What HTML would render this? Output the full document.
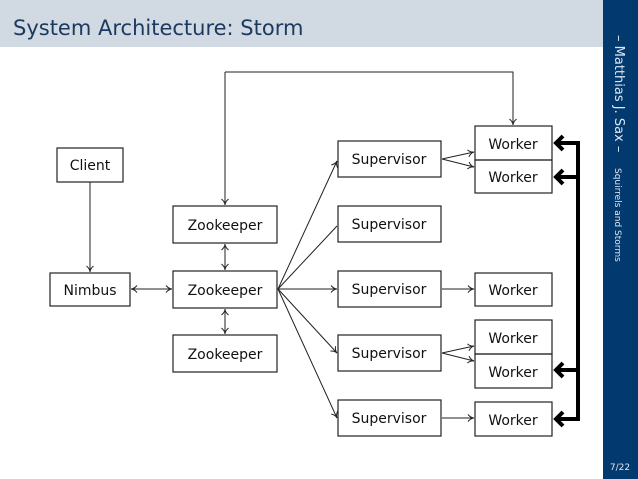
<!DOCTYPE html>
<html><head><meta charset="utf-8"><style>
html,body{margin:0;padding:0;width:638px;height:479px;overflow:hidden;background:#fff;font-family:"DejaVu Sans","Liberation Sans",sans-serif}
</style></head><body>
<svg width="638" height="479" viewBox="0 0 638 479" xmlns="http://www.w3.org/2000/svg">
<defs>
<marker id="a" markerWidth="8" markerHeight="8" refX="7" refY="4" orient="auto" markerUnits="userSpaceOnUse">
<path d="M1,0.5 Q4,4 7,4 Q4,4 1,7.5" fill="none" stroke="#222" stroke-width="1"/></marker>
</defs>
<rect x="0" y="0" width="603" height="47" fill="#d1d9e2"/>
<text x="13" y="35" font-size="21" fill="#1c3a60">System Architecture: Storm</text>
<rect x="603" y="0" width="35" height="479" fill="#023a70"/>
<text transform="translate(615,35) rotate(90)" font-size="13" fill="#dfe6ef">– Matthias J. Sax –</text>
<text transform="translate(615,168) rotate(90)" font-size="9" fill="#dfe6ef">Squirrels and Storms</text>
<text x="620" y="470" font-size="9" fill="#dfe6ef" text-anchor="middle">7/22</text>
<g fill="none" stroke="#222" stroke-width="1.2">
<rect x="57" y="148" width="66" height="34"/>
<rect x="50" y="273" width="80" height="33"/>
<rect x="173" y="206" width="104" height="37"/>
<rect x="173" y="271" width="104" height="37"/>
<rect x="173" y="335" width="104" height="37"/>
<rect x="338" y="141" width="103" height="36"/>
<rect x="338" y="206" width="103" height="36"/>
<rect x="338" y="271" width="103" height="36"/>
<rect x="338" y="335" width="103" height="36"/>
<rect x="338" y="400" width="103" height="36"/>
<rect x="475" y="126" width="77" height="34"/>
<rect x="475" y="160" width="77" height="33"/>
<rect x="475" y="273" width="77" height="33"/>
<rect x="475" y="320" width="77" height="34"/>
<rect x="475" y="354" width="77" height="34"/>
<rect x="475" y="402" width="77" height="34"/>
</g>
<g fill="none" stroke="#222" stroke-width="1">
<path d="M90,182 V272" marker-end="url(#a)"/>
<path d="M172,289 H131" marker-end="url(#a)"/>
<path d="M131,289 H172" marker-end="url(#a)"/>
<path d="M225,244 V270" marker-end="url(#a)"/>
<path d="M225,270 V244" marker-end="url(#a)"/>
<path d="M225,309 V334" marker-end="url(#a)"/>
<path d="M225,334 V309" marker-end="url(#a)"/>
<path d="M225,72 V205" marker-end="url(#a)"/>
<path d="M225,72 H513 V125" marker-end="url(#a)"/>
<path d="M278,289 L337,161" marker-end="url(#a)"/>
<path d="M278,289 L337,226"/>
<path d="M278,289 H337" marker-end="url(#a)"/>
<path d="M278,289 L337,353" marker-end="url(#a)"/>
<path d="M278,289 L337,418" marker-end="url(#a)"/>
<path d="M442,159 L474,152" marker-end="url(#a)"/>
<path d="M442,159 L474,167" marker-end="url(#a)"/>
<path d="M442,289 H474" marker-end="url(#a)"/>
<path d="M442,353 L474,346" marker-end="url(#a)"/>
<path d="M442,353 L474,361" marker-end="url(#a)"/>
<path d="M442,418 H474" marker-end="url(#a)"/>
</g>
<g fill="none" stroke="#000" stroke-width="4">
<path d="M578,141 V421"/>
<path d="M578,143 H557 M563,136 L556,143 L563,150"/>
<path d="M578,177 H557 M563,170 L556,177 L563,184"/>
<path d="M578,370 H557 M563,363 L556,370 L563,377"/>
<path d="M578,419 H557 M563,412 L556,419 L563,426"/>
</g>
<g font-size="14" fill="#111" text-anchor="middle">
<text x="90" y="170">Client</text>
<text x="90" y="295">Nimbus</text>
<text x="225" y="230">Zookeeper</text>
<text x="225" y="295">Zookeeper</text>
<text x="225" y="359">Zookeeper</text>
<text x="389" y="164">Supervisor</text>
<text x="389" y="229">Supervisor</text>
<text x="389" y="294">Supervisor</text>
<text x="389" y="358">Supervisor</text>
<text x="389" y="423">Supervisor</text>
<text x="513" y="149">Worker</text>
<text x="513" y="182">Worker</text>
<text x="513" y="295">Worker</text>
<text x="513" y="343">Worker</text>
<text x="513" y="377">Worker</text>
<text x="513" y="425">Worker</text>
</g>
</svg>
</body></html>
